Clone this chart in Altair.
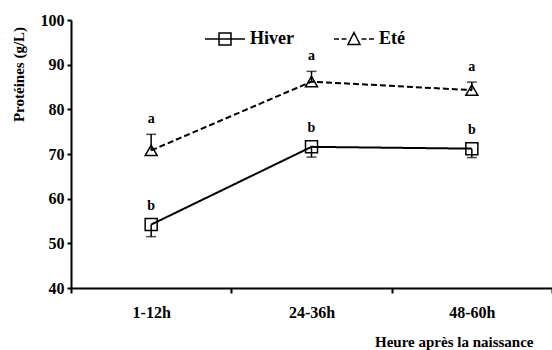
import altair as alt
import pandas as pd

categories = ["1-12h", "24-36h", "48-60h"]
seasons = ["Hiver", "Eté"]
hiver = [54.2, 71.6, 71.2]
hiver_err = [2.7, 2.3, 2.0]
ete = [70.8, 86.2, 84.3]
ete_err = [3.6, 2.3, 1.8]
letters_hiver = ["b", "b", "b"]
letters_ete = ["a", "a", "a"]

rows = []
for i, c in enumerate(categories):
    rows.append(dict(Heure=c, Saison="Hiver", v=hiver[i], lo=hiver[i] - hiver_err[i],
                     hi=hiver[i], cap=hiver[i] - hiver_err[i], lab_y=hiver[i], lettre=letters_hiver[i]))
    rows.append(dict(Heure=c, Saison="Eté", v=ete[i], lo=ete[i], hi=ete[i] + ete_err[i],
                     cap=ete[i] + ete_err[i], lab_y=ete[i] + ete_err[i], lettre=letters_ete[i]))
df = pd.DataFrame(rows)

FONT = "Liberation Serif"

x = alt.X("Heure:N", sort=categories, title="Heure après la naissance",
          scale=alt.Scale(type="band", paddingInner=0, paddingOuter=0),
          axis=alt.Axis(labelAngle=0, tickBand="extent", domainColor="black", domainWidth=2,
                        tickColor="black", tickWidth=2, tickSize=5, labelPadding=11,
                        labelFont=FONT, labelFontSize=16, labelFontWeight="bold", labelColor="black",
                        titleFont=FONT, titleFontSize=15, titleFontWeight="bold", titleColor="black",
                        titleAnchor="end", titleAlign="right", titleX=462, titleY=53,
                        titleBaseline="middle", grid=False))
yscale = alt.Scale(domain=[40, 100], nice=False, zero=False)
y = alt.Y("v:Q", scale=yscale, title="Protéines (g/L)",
          axis=alt.Axis(values=[40, 50, 60, 70, 80, 90, 100], domainColor="black", domainWidth=2,
                        tickColor="black", tickWidth=2, tickSize=4, labelPadding=3,
                        labelFont=FONT, labelFontSize=16, labelFontWeight="bold", labelColor="black",
                        titleFont=FONT, titleFontSize=15, titleFontWeight="bold", titleColor="black",
                        titleAnchor="start", titleAlign="center", titleX=-53, titleY=54,
                        titleAngle=-90, titleBaseline="middle", grid=False))

base = alt.Chart(df)

lines = base.mark_line(color="black", strokeWidth=2).encode(
    x=x, y=y,
    strokeDash=alt.StrokeDash("Saison:N", scale=alt.Scale(domain=seasons, range=[[1, 0], [6, 3]]),
                              legend=None),
)

points = base.mark_point(color="black", filled=False, size=144, strokeWidth=1.5, opacity=1).encode(
    x=x, y=y,
    shape=alt.Shape("Saison:N", scale=alt.Scale(domain=seasons, range=["square", "triangle-up"]),
                    legend=None),
)

err = base.mark_rule(color="black", strokeWidth=1.5).encode(
    x=x, y=alt.Y("lo:Q", scale=yscale), y2="hi:Q")

caps = base.mark_tick(color="black", thickness=1.5, size=10, orient="horizontal").encode(
    x=x, y=alt.Y("cap:Q", scale=yscale))

txt_h = base.transform_filter(alt.datum.Saison == "Hiver").mark_text(
    font=FONT, fontSize=14, fontWeight="bold", color="black", dy=-19, baseline="middle").encode(
    x=x, y=alt.Y("lab_y:Q", scale=yscale), text="lettre:N")
txt_e = base.transform_filter(alt.datum.Saison == "Eté").mark_text(
    font=FONT, fontSize=14, fontWeight="bold", color="black", dy=-15, baseline="middle").encode(
    x=x, y=alt.Y("lab_y:Q", scale=yscale), text="lettre:N")

leg_paths = [
    "M-2,0H2M-0.6,-0.6H0.6V0.6H-0.6Z",
    "M-2,0H-1.5M-1.25,0H-0.75M0,-0.65L0.6,0.55H-0.6ZM0.75,0H1.25M1.5,0H2",
]
legend_layer = base.transform_filter("false").mark_point(
    color="black", filled=False, strokeWidth=1.5, size=400, opacity=1).encode(
    x=x, y=y,
    shape=alt.Shape("Saison:N", scale=alt.Scale(domain=seasons, range=leg_paths),
                    legend=alt.Legend(title=None, orient="none", direction="horizontal",
                                      legendX=143, legendY=8, padding=0, symbolSize=400,
                                      symbolStrokeWidth=1.5, symbolStrokeColor="black",
                                      symbolFillColor="transparent",
                                      labelOffset=14, columnPadding=37,
                                      labelFont=FONT, labelFontSize=18, labelFontWeight="bold",
                                      labelColor="black")),
)

chart = alt.layer(lines, err, caps, points, txt_h, txt_e, legend_layer).resolve_scale(
    shape="independent"
).properties(
    width=481, height=268,
    autosize=alt.AutoSizeParams(type="none"),
    padding={"left": 71, "top": 20, "right": 0, "bottom": 62},
    background="white",
).configure_view(stroke=None)

chart.save("out.html", embed_options={"renderer": "svg", "actions": False})
